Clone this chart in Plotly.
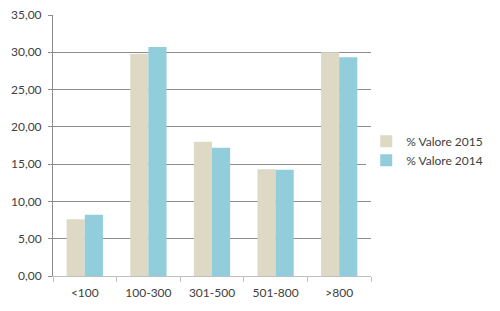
import plotly.graph_objects as go

categories = ["<100", "100-300", "301-500", "501-800", ">800"]
valori_2015 = [7.6, 29.8, 18.0, 14.3, 30.0]
valori_2014 = [8.2, 30.7, 17.2, 14.25, 29.35]
y_ticks = [0, 5, 10, 15, 20, 25, 30, 35]

fig = go.Figure()
fig.add_trace(go.Bar(x=categories, y=valori_2015, name="% Valore 2015",
                     marker=dict(color="#DDD9C4", line=dict(width=0))))
fig.add_trace(go.Bar(x=categories, y=valori_2014, name="% Valore 2014",
                     marker=dict(color="#92CDDC", line=dict(width=0))))

font = dict(family="Lato, Liberation Sans, Arial, sans-serif", size=12, color="#404040")
fig.update_layout(
    width=500, height=311,
    margin=dict(l=53, r=129, t=15, b=35, autoexpand=False),
    paper_bgcolor="white", plot_bgcolor="white",
    barmode="group", bargap=0.43, bargroupgap=0,
    separators=",.",
    font=font,
    showlegend=True,
    legend=dict(x=0.985, y=0.48, xanchor="left", yanchor="middle",
                font=font, itemwidth=30, tracegroupgap=0),
    xaxis=dict(showgrid=False, showline=True, linecolor="#BFBFBF", linewidth=1,
               ticks="outside", tickson="boundaries", ticklen=5, tickcolor="#BFBFBF",
               tickfont=font, ticklabelstandoff=6),
    yaxis=dict(range=[0, 35], tickvals=y_ticks, tickformat=".2f",
               showgrid=True, gridcolor="#8C8C8C", gridwidth=1,
               showline=True, linecolor="#8C8C8C", linewidth=1,
               ticks="outside", ticklen=4, tickcolor="#8C8C8C",
               zeroline=False, tickfont=font, ticklabelstandoff=4),
)
fig.write_html("out.html")
